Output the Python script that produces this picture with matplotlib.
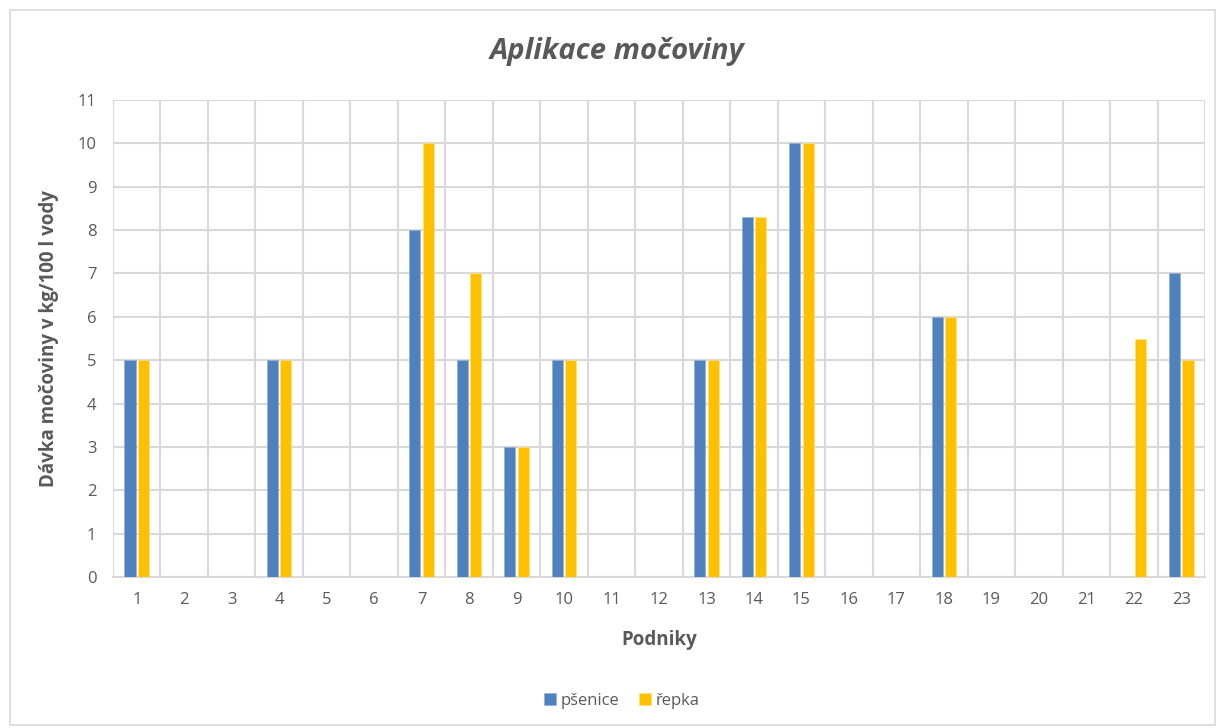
import matplotlib
matplotlib.use("Agg")
import matplotlib.pyplot as plt
import numpy as np
from matplotlib.patches import Rectangle
from matplotlib.ticker import MultipleLocator, FixedLocator

categories = [str(i) for i in range(1, 24)]
psenice = [5, 0, 0, 5, 0, 0, 8, 5, 3, 5, 0, 0, 5, 8.3, 10, 0, 0, 6, 0, 0, 0, 0, 7]
repka = [5, 0, 0, 5, 0, 0, 10, 7, 3, 5, 0, 0, 5, 8.3, 10, 0, 0, 6, 0, 0, 0, 5.5, 5]

plt.rcParams['font.family'] = ['Open Sans', 'DejaVu Sans']
txt = '#595959'
grid = '#d9d9d9'

fig = plt.figure(figsize=(12.2, 7.28), dpi=100)
fig.patches.append(Rectangle((10/1220, 3/728), 1205/1220, 715/728, transform=fig.transFigure,
                             fill=False, edgecolor=grid, linewidth=1.2))
ax = fig.add_axes([113/1220, 1 - 577/728, (1205-113)/1220, (577-100)/728])

x = np.arange(len(categories))
w = 0.235
off = 0.142
ax.bar(x - off, psenice, w, color='#4F81BD', edgecolor='#8fb0d8', linewidth=0.5, label='pšenice', zorder=3)
ax.bar(x + off, repka, w, color='#FFC000', edgecolor='#ffe080', linewidth=0.5, label='řepka', zorder=3)

ax.set_xlim(-0.5, len(categories) - 0.5)
ax.set_ylim(0, 11)
ax.yaxis.set_major_locator(MultipleLocator(1))
ax.set_xticks(x)
ax.set_xticklabels(categories)
ax.xaxis.set_minor_locator(FixedLocator(np.arange(-0.5, len(categories), 1)))
ax.grid(axis='y', which='major', color=grid, linewidth=1.5, zorder=0)
ax.grid(axis='x', which='minor', color=grid, linewidth=1.5, zorder=0)
ax.grid(axis='x', which='major', visible=False)
for s in ['top', 'right', 'left']:
    ax.spines[s].set_visible(False)
ax.spines['bottom'].set_color(grid)
ax.spines['bottom'].set_linewidth(1.5)
ax.tick_params(axis='both', which='both', length=0, colors=txt, labelsize=12)
ax.tick_params(axis='x', pad=11)
ax.tick_params(axis='y', pad=12)
ax.set_axisbelow(True)

ax.set_ylabel('Dávka močoviny v kg/100 l vody', fontsize=13.5, fontweight='bold', color=txt, labelpad=13)
ax.set_xlabel('Podniky', fontsize=13.5, fontweight='bold', color=txt, labelpad=16)
fig.text(617/1220, 1 - 52/728, 'Aplikace močoviny', ha='center', va='center', fontsize=21,
         style='italic', fontweight='bold', color=txt)

fig.legend(loc='center', bbox_to_anchor=(622/1220, 1 - 701/728), ncol=2, frameon=False,
           fontsize=12, handlelength=0.7, handleheight=0.7, handletextpad=0.3, columnspacing=1.2,
           labelcolor=txt)

fig.savefig('out.png', dpi=100)
